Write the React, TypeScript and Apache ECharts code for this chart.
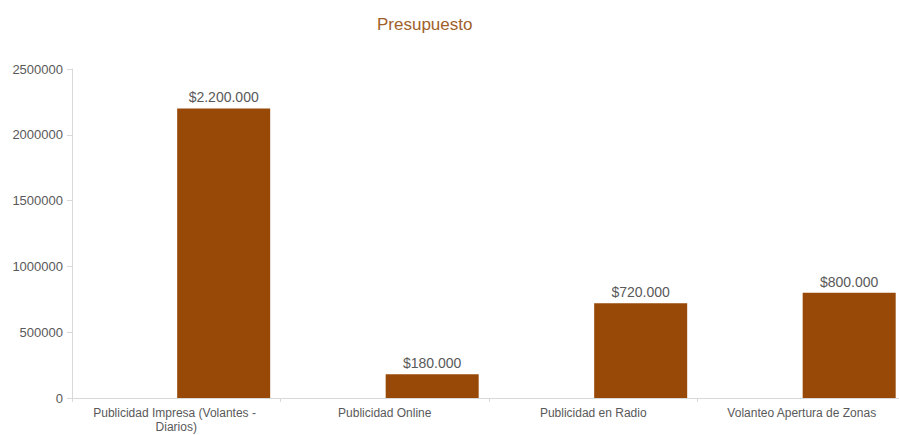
import React, { useEffect, useRef } from "react";
import * as echarts from "echarts";

const categories = [
  "Publicidad Impresa (Volantes - Diarios)",
  "Publicidad Online",
  "Publicidad en Radio",
  "Volanteo Apertura de Zonas",
];
const budget = [2200000, 180000, 720000, 800000];
const placeholder = ["-", "-", "-", "-"];
const yTicks = { min: 0, max: 2500000, interval: 500000 };

function money(v: number): string {
  return "$" + String(Math.round(v)).replace(/\B(?=(\d{3})+(?!\d))/g, ".");
}

export default function App() {
  const ref = useRef<HTMLDivElement>(null);
  useEffect(() => {
    if (!ref.current) return;
    const chart = echarts.init(ref.current, undefined, { renderer: "svg" });
    chart.setOption({
      animation: false,
      backgroundColor: "#ffffff",
      textStyle: { fontFamily: "Liberation Sans, Arial, sans-serif" },
      title: {
        text: "Presupuesto",
        left: 372,
        top: 11,
        textStyle: {
          color: "#A0602A",
          fontSize: 17,
          fontWeight: "normal",
          fontFamily: "Liberation Sans, Arial, sans-serif",
        },
      },
      grid: { left: 72, top: 69, width: 834, height: 329, containLabel: false },
      xAxis: {
        type: "category",
        data: categories,
        axisLine: { show: true, lineStyle: { color: "#D9D9D9", width: 1 } },
        axisTick: { show: true, length: 4, lineStyle: { color: "#D9D9D9" } },
        axisLabel: {
          color: "#595959",
          fontSize: 12,
          margin: 8,
          lineHeight: 14,
          width: 190,
          overflow: "break",
          interval: 0,
          fontFamily: "Liberation Sans, Arial, sans-serif",
        },
      },
      yAxis: {
        type: "value",
        min: yTicks.min,
        max: yTicks.max,
        interval: yTicks.interval,
        splitLine: { show: false },
        axisLine: { show: true, lineStyle: { color: "#D9D9D9", width: 1 } },
        axisTick: { show: true, length: 5, lineStyle: { color: "#D9D9D9" } },
        axisLabel: {
          color: "#595959",
          fontSize: 13,
          margin: 9,
          formatter: (v: number) => String(v),
          fontFamily: "Liberation Sans, Arial, sans-serif",
        },
      },
      series: [
        {
          type: "bar",
          name: "placeholder",
          data: placeholder,
          barWidth: 93,
          barGap: "2%",
          silent: true,
        },
        {
          type: "bar",
          name: "Presupuesto",
          data: budget,
          barWidth: 93,
          barGap: "2%",
          clip: false,
          itemStyle: { color: "#984807" },
          label: {
            show: true,
            position: "top",
            distance: 4,
            color: "#595959",
            fontSize: 14,
            fontFamily: "Liberation Sans, Arial, sans-serif",
            formatter: (p: any) => money(p.value),
          },
        },
      ],
    });
    return () => chart.dispose();
  }, []);
  return (
    <div
      ref={ref}
      style={{ position: "fixed", left: 0, top: 0, width: 910, height: 435, background: "#fff" }}
    />
  );
}
